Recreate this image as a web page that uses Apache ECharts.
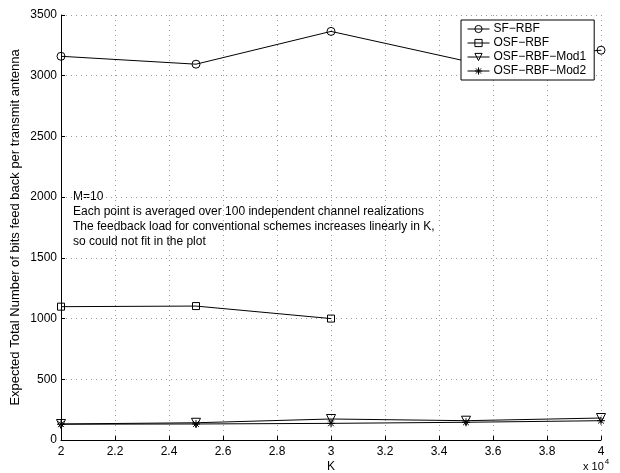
<!DOCTYPE html>
<html>
<head>
<meta charset="utf-8">
<script src="https://cdn.jsdelivr.net/npm/echarts@6/dist/echarts.min.js"></script>
<style>
  html, body { margin: 0; padding: 0; background: #fff; }
  #chart { width: 620px; height: 473px; }
</style>
</head>
<body>
<div id="chart"></div>
<script>
// K values are in units of 10^4
const kValues = [2, 2.5, 3, 3.5, 4]
const sfRbf = [3160, 3095, 3365, 3120, 3210]
const osfRbf = [1098, 1103, 1000]
const osfRbfMod1 = [132, 142, 173, 159, 181]
const osfRbfMod2 = [130, 132, 137, 146, 159]
const seriesNames = ['SF−RBF', 'OSF−RBF', 'OSF−RBF−Mod1', 'OSF−RBF−Mod2']
const noteLines = [
  'M=10',
  'Each point is averaged over 100 independent channel realizations',
  'The feedback load for conventional schemes increases linearly in K,',
  'so could not fit in the plot'
]

const font = 'Liberation Sans, Arial, Helvetica, sans-serif'
const asterisk = 'path://M0,-5L0,5M-5,0L5,0M-3.6,-3.6L3.6,3.6M-3.6,3.6L3.6,-3.6'

function pairs(values) {
  return values.map((v, i) => [kValues[i], v])
}

function makeSeries(name, values, symbol, size, rotate) {
  return {
    name: name,
    type: 'line',
    data: pairs(values),
    symbol: symbol,
    symbolSize: size,
    symbolRotate: rotate || 0,
    showAllSymbol: true,
    animation: false,
    lineStyle: { color: '#000', width: 1 },
    itemStyle: { color: 'rgba(0,0,0,0)', borderColor: '#000', borderWidth: 1 },
    emphasis: { disabled: true }
  }
}

const chart = echarts.init(document.getElementById('chart'))
chart.setOption({
  backgroundColor: '#fff',
  animation: false,
  grid: { left: 61, right: 19, top: 15, bottom: 33, containLabel: false, outerBoundsMode: 'none' },
  legend: {
    orient: 'vertical',
    left: 461,
    top: 20,
    data: seriesNames,
    itemWidth: 22,
    itemHeight: 9,
    itemGap: 2,
    padding: [3, 8, 3, 6],
    borderColor: '#000',
    borderWidth: 1,
    backgroundColor: '#fff',
    itemStyle: { color: 'rgba(0,0,0,0)', borderColor: '#000', borderWidth: 1 },
    lineStyle: { color: '#000', width: 1 },
    textStyle: { fontFamily: font, fontSize: 12, lineHeight: 12, color: '#000', padding: [0, 0, 0, -1] }
  },
  xAxis: {
    type: 'value',
    min: 2,
    max: 4,
    interval: 0.2,
    name: 'K',
    nameLocation: 'middle',
    nameGap: 21,
    nameMoveOverlap: false,
    nameTextStyle: { fontFamily: font, fontSize: 12, color: '#000' },
    axisLine: { onZero: false, lineStyle: { color: '#000', width: 1 } },
    axisTick: { inside: true, length: 4, lineStyle: { color: '#000' } },
    axisLabel: {
      fontFamily: font, fontSize: 12, color: '#000', margin: 6,
      formatter: v => String(Math.round(v * 10) / 10)
    },
    splitLine: { show: true, lineStyle: { color: '#999', type: [1, 4], width: 1 } }
  },
  yAxis: {
    type: 'value',
    min: 0,
    max: 3500,
    interval: 500,
    name: 'Expected Total Number of bits feed back per transmit antenna',
    nameLocation: 'middle',
    nameGap: 39,
    nameMoveOverlap: false,
    nameTextStyle: { fontFamily: font, fontSize: 13, color: '#000' },
    axisLine: { show: true, lineStyle: { color: '#000', width: 1 } },
    axisTick: { show: true, inside: true, length: 4, lineStyle: { color: '#000' } },
    axisLabel: { fontFamily: font, fontSize: 12, color: '#000', margin: 4, formatter: v => String(v) },
    splitLine: { show: true, lineStyle: { color: '#999', type: [1, 4], width: 1 } }
  },
  graphic: [
    {
      type: 'text',
      left: 73,
      top: 189,
      silent: true,
      style: {
        text: noteLines.join('\n'),
        font: '12px ' + font,
        lineHeight: 15,
        fill: '#000'
      }
    },
    {
      type: 'text',
      left: 583,
      top: 458,
      silent: true,
      style: {
        text: '{b|x 10}{s|4}',
        rich: {
          b: { font: '11px ' + font, fill: '#000', verticalAlign: 'bottom', lineHeight: 14 },
          s: { font: '8px ' + font, fill: '#000', verticalAlign: 'top', lineHeight: 14, padding: [0, 0, 6, 1] }
        }
      }
    }
  ],
  series: [
    makeSeries(seriesNames[0], sfRbf, 'circle', 8),
    makeSeries(seriesNames[1], osfRbf, 'rect', 7),
    makeSeries(seriesNames[2], osfRbfMod1, 'triangle', 9, 180),
    makeSeries(seriesNames[3], osfRbfMod2, asterisk, 8)
  ]
})
</script>
</body>
</html>
